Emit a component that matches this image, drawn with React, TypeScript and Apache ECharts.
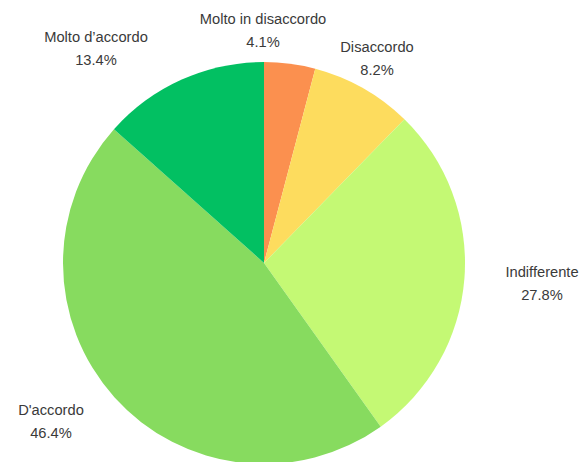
import React, { useEffect, useRef } from "react";
import * as echarts from "echarts";

const CATEGORIES = ["Molto in disaccordo", "Disaccordo", "Indifferente", "D'accordo", "Molto d\u2019accordo"];
const VALUES = [4.1, 8.2, 27.8, 46.4, 13.4];
const COLORS = ["#FB904F", "#FDDC5E", "#C4F974", "#87DB5F", "#02C062"];
// label centre positions (layout only)
const LABEL_POS: [number, number][] = [
  [263, 30],
  [377, 58],
  [542, 283],
  [51, 421],
  [96, 48],
];

export default function App() {
  const ref = useRef<HTMLDivElement>(null);
  useEffect(() => {
    document.body.style.margin = "0";
    const chart = echarts.init(ref.current!, null, { renderer: "svg" });
    chart.setOption({
      animation: false,
      backgroundColor: "#ffffff",
      series: [
        {
          type: "pie",
          center: [264, 263],
          radius: 201,
          startAngle: 90,
          clockwise: true,
          avoidLabelOverlap: false,
          itemStyle: { borderWidth: 0 },
          label: {
            show: true,
            position: "outside",
            formatter: (p: any) => `${p.name}\n${p.value}%`,
            fontFamily: "Liberation Sans, Arial, sans-serif",
            fontSize: 14.7,
            lineHeight: 23,
            color: "#3a3a3a",
            align: "center",
          },
          labelLine: { show: false },
          labelLayout: (p: any) => ({
            x: LABEL_POS[p.dataIndex][0],
            y: LABEL_POS[p.dataIndex][1],
            align: "center",
            verticalAlign: "middle",
          }),
          emphasis: { disabled: true },
          data: CATEGORIES.map((name, i) => ({
            name,
            value: VALUES[i],
            itemStyle: { color: COLORS[i] },
          })),
        },
      ],
    });
    return () => chart.dispose();
  }, []);
  return <div ref={ref} style={{ width: 587, height: 462 }} />;
}
